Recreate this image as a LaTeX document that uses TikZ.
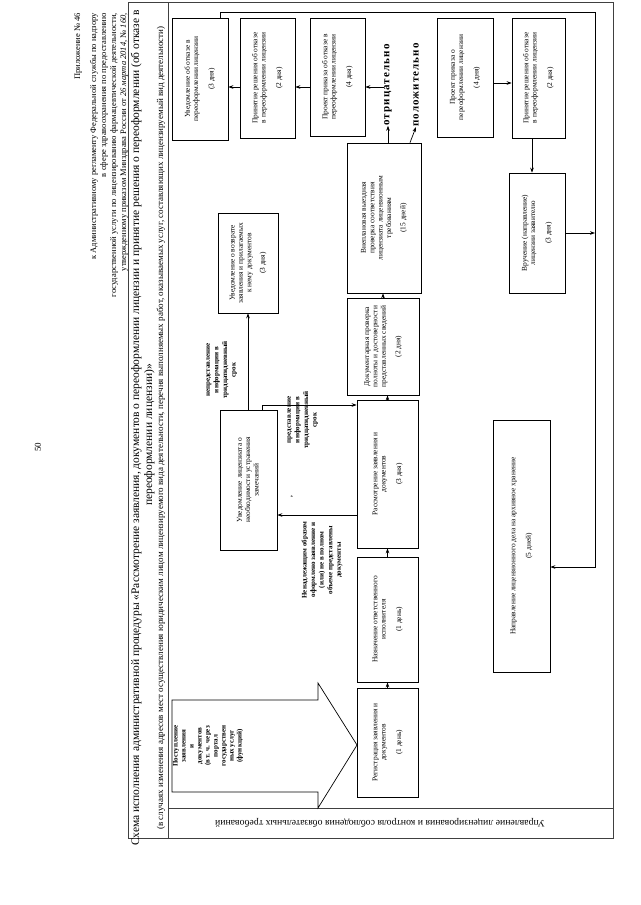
\documentclass[tikz,border=0pt]{standalone}
\usepackage{fontspec}
\setmainfont{Liberation Serif}
\usepackage{graphicx}
\usetikzlibrary{arrows.meta,calc}
\newcommand\R[1]{\rotatebox{90}{\begin{tabular}{@{}c@{}}#1\end{tabular}}}
\newcommand\mybox[6]{\node[box,minimum width={(#4-#2)*1pt},minimum height={(#5-#3)*1pt}] (#1) at ({(#2+#4)/2},{(#3+#5)/2}) {\R{#6}};}
\begin{document}
\begin{tikzpicture}[x=1pt,y=-1pt,
  box/.style={draw, line width=0.7pt, inner sep=0pt, font=\fontsize{7.4}{8.4}\selectfont},
  lab/.style={inner sep=0pt, font=\bfseries\fontsize{7}{8.6}\selectfont},
  arr/.style={-{Stealth[length=5pt,width=3.6pt]}, line width=0.7pt},
  frm/.style={line width=0.6pt, draw=black!75},
  hdr/.style={rotate=90, inner sep=0pt, font=\fontsize{8.5}{10}\selectfont, anchor=base east},
  big/.style={inner sep=0pt, font=\bfseries\fontsize{11}{12}\selectfont\addfontfeature{LetterSpace=10}}]
\fill[white] (0,0) rectangle (640,905);
\useasboundingbox (0,0) rectangle (640,905);

% page number and header
\node[rotate=90, inner sep=0pt, font=\fontsize{9}{10}\selectfont] (pg) at (38,447) {50};
\node[hdr] (h1) at (80,13) {Приложение № 46};
\node[hdr] (h2) at (96,13) {к Административному регламенту Федеральной службы по надзору};
\node[hdr] (h3) at (106,13) {в сфере здравоохранения по предоставлению};
\node[hdr] (h4) at (116,13) {государственной услуги по лицензированию фармацевтической деятельности,};
\node[hdr] (h5) at (126,13) {утвержденному приказом Минздрава России от \textit{26 марта 2014}, № \textit{160},};

% frame
\draw[frm] (128,2) rectangle (613,838);
\draw[frm] (168,2) -- (168,838);
\draw[frm] (168,808) -- (613,808);

\node[rotate=90, inner sep=0pt, anchor=base, font=\fontsize{11.5}{12}\selectfont] (t1) at (139,428) {Схема исполнения административной процедуры «Рассмотрение заявления, документов о переоформлении лицензии и принятие решения о переоформлении (об отказе в};
\node[rotate=90, inner sep=0pt, anchor=base, font=\fontsize{11.5}{12}\selectfont] (t2) at (152,435) {переоформлении лицензии)»};
\node[rotate=90, inner sep=0pt, anchor=base, font=\fontsize{9}{9}\selectfont] (t3) at (163,428) {(в случаях изменения адресов мест осуществления юридическим лицом лицензируемого вида деятельности, перечня выполняемых работ, оказываемых услуг, составляющих лицензируемый вид деятельности)};
\node[rotate=180, inner sep=0pt, font=\fontsize{9.8}{10}\selectfont] (dept) at (380,823) {Управление лицензирования и контроля соблюдения обязательных требований};

% boxes
\mybox{A}{172}{18}{228}{140}{Уведомление об отказе в\\переоформлении лицензии\\[7pt](3 дня)}
\mybox{B}{240}{18}{295}{138}{Принятие решения об отказе\\в переоформлении лицензии\\[7pt](2 дня)}
\mybox{C}{310}{18}{365}{136}{Проект приказа об отказе в\\переоформлении лицензии\\[7pt](4 дня)}
\mybox{E}{437}{18}{493}{137}{Проект приказа о\\переоформлении лицензии\\[7pt](4 дня)}
\mybox{F}{512}{18}{565}{138}{Принятие решения об отказе\\в переоформлении лицензии\\[7pt](2 дня)}
\mybox{G}{509}{173}{565}{293}{Вручение (направление)\\лицензии заявителю\\[7pt](3 дня)}
\mybox{D}{347}{143}{421}{293}{Внеплановая выездная\\проверка соответствия\\лицензиата лицензионным\\требованиям\\[6pt](15 дней)}
\mybox{N}{347}{298}{419}{395}{Документарная проверка\\полноты и достоверности\\представленных сведений\\[6pt](2 дня)}
\mybox{K}{357}{400}{418}{548}{Рассмотрение заявления и\\документов\\[7pt](3 дня)}
\mybox{J}{357}{557}{418}{682}{Назначение ответственного\\исполнителя\\[7pt](1 день)}
\mybox{I}{357}{688}{418}{797}{Регистрация заявления и\\документов\\[7pt](1 день)}
\mybox{M}{218}{213}{278}{313}{Уведомление о возврате\\заявления и прилагаемых\\к нему документов\\[5pt](3 дня)}
\mybox{L}{220}{410}{277}{550}{Уведомление лицензиата о\\необходимости устранения\\замечаний}
\mybox{H}{493}{420}{550}{672}{Направление лицензионного дела на архивное хранение\\[7pt](5 дней)}

% labels
\node[big] (neg) at (388,85) {\rotatebox{90}{отрицательно}};
\node[big] (pos) at (416,85) {\rotatebox{90}{положительно}};
\node[lab] (nopres) at (221,370) {\R{непредставление\\информации в\\тридцатидневный\\срок}};
\node[lab] (pres) at (302,420) {\R{представление\\информации в\\тридцатидневный\\срок}};
\node[lab] (bad) at (322,560) {\R{Ненадлежащим образом\\оформлено заявление и\\(или) не в полном\\объеме представлены\\документы}};
\node[inner sep=0pt, font=\bfseries\fontsize{7}{8}\selectfont] (mark) at (292,497) {\rotatebox{90}{,}};

% big incoming arrow
\draw[line width=0.7pt] (172,700) -- (318,700) -- (318,683) -- (357,745) -- (318,808) -- (318,792) -- (172,792) -- cycle;
\node[inner sep=0pt, font=\bfseries\fontsize{7}{8}\selectfont] (post) at (208,746) {\R{Поступление\\заявления\\и\\документов\\(в т. ч. через\\портал\\государствен\\ных услуг\\(функций)}};

% coordinates
\coordinate (r1) at (0,87);
\coordinate (r2) at (0,83);
\coordinate (kl) at (0,515);
\coordinate (lk) at (262,405);
\coordinate (dp) at (410,0);
\coordinate (fg) at (532,0);
\coordinate (a1) at (220,0);
\coordinate (bus) at (595,12);
\coordinate (hin) at (0,567);

% connectors
\draw[arr] (I.north) -- (J.south);
\draw[arr] (J.north) -- (K.south);
\draw[arr] (K.north) -- (K.north |- N.south);
\draw[arr] (N.north) -- (N.north |- D.south);
\draw[arr] (K.west |- kl) -- (L.east |- kl);
\draw[arr] (L.north -| M.south) -- (M.south);
\draw[arr] (L.north -| lk) |- (K.west |- lk);
\draw[arr] (D.north -| neg.south) -- (neg.south);
\draw[arr] (neg.west |- r1) -- (C.east |- r1);
\draw[arr] (D.north -| dp) -- (pos.south);
\draw[arr] (C.west |- r1) -- (B.east |- r1);
\draw[arr] (B.west |- r1) -- (A.east |- r1);
\draw[arr] (E.east |- r2) -- (F.west |- r2);
\draw[arr] (F.south -| fg) -- (G.north -| fg);
\draw[arr] (G.east) -- (G.east -| bus);
\draw[arr] (A.north -| a1) |- (bus) |- (H.east |- hin);
\end{tikzpicture}
\end{document}
